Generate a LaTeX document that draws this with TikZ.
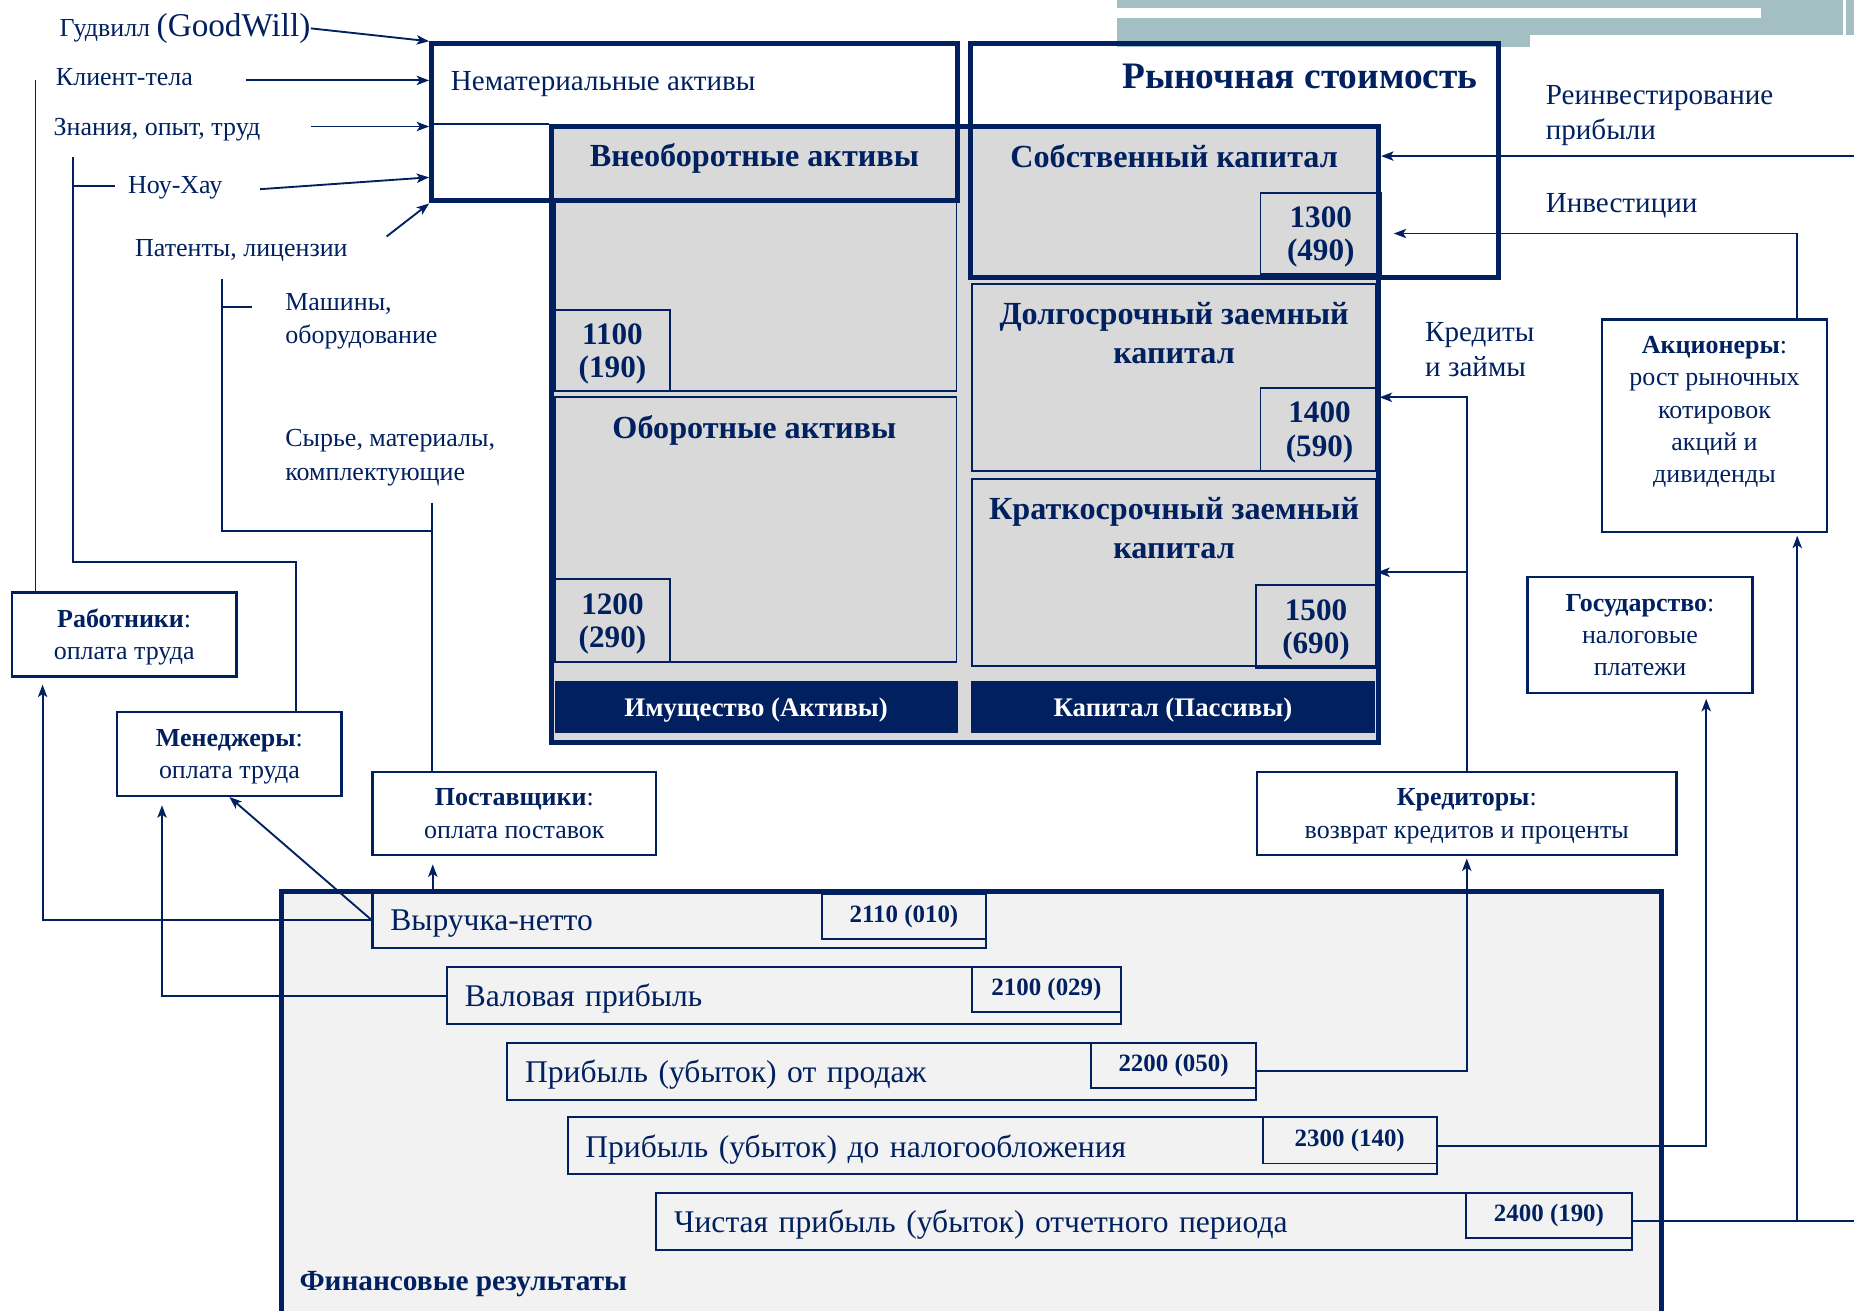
\documentclass[tikz,border=0pt]{standalone}
\usepackage{fontspec}
\setmainfont{Liberation Serif}
\usetikzlibrary{arrows.meta}

\definecolor{navy}{RGB}{0,32,96}
\definecolor{balgrey}{RGB}{217,217,217}
\definecolor{resgrey}{RGB}{242,242,242}
\definecolor{stripe}{RGB}{163,191,196}

\begin{document}
\begin{tikzpicture}[
    x=0.02cm, y=-0.02cm, color=navy,
    frame/.style={rectangle, draw=navy, line width=2.4pt, inner sep=0pt},
    cell/.style={rectangle, draw=navy, line width=0.9pt, inner sep=0pt},
    numbox/.style={cell, text depth=0pt, font=\bfseries\fontsize{15}{16}\selectfont, align=center},
    heading/.style={font=\bfseries\fontsize{15.5}{19}\selectfont, align=center, inner sep=0pt},
    footbar/.style={rectangle, fill=navy, text=white, text depth=0pt, font=\bfseries\fontsize{12.9}{16}\selectfont, inner sep=0pt},
    party/.style={rectangle, draw=navy, line width=1.2pt, fill=white, align=center, inner sep=0pt, font=\fontsize{12.5}{15.5}\selectfont},
    source/.style={anchor=west, align=left, inner sep=0pt, font=\fontsize{12.5}{16}\selectfont},
    flow/.style={anchor=west, align=left, inner sep=0pt, font=\fontsize{14}{17}\selectfont},
    result/.style={rectangle, draw=navy, line width=1pt, inner xsep=0.3cm, inner ysep=0pt, text depth=0pt, minimum height=0.96cm, align=left, font=\fontsize{15.2}{17}\selectfont},
    code/.style={rectangle, draw=navy, line width=0.9pt, inner sep=0pt, minimum height=0.76cm, font=\bfseries\fontsize{12}{14}\selectfont},
    link/.style={line width=0.9pt},
    arrow/.style={-{Stealth[length=6pt, width=4.5pt, inset=1.5pt]}, line width=0.9pt}
]
\useasboundingbox (0,0) rectangle (1568,1108);

% Header stripes
\fill[stripe] (945,0) rectangle (1568,30);
\fill[stripe] (945,0) rectangle (1294,40);
\fill[white] (945,7) rectangle (1489,15);
\fill[white] (1559,0) rectangle (1561,30);

% Balance sheet
\node[frame, fill=balgrey, minimum width=14cm, minimum height=10.42cm] at (816,367.5) (bal) {};
\node[cell, minimum width=6.8cm, minimum height=3.22cm] at (639,250.5) (nca) {};
\node[cell, minimum width=6.8cm, minimum height=4.48cm] at (639,448) (ca) {};
\node[cell, minimum width=6.84cm, minimum height=3.16cm] at (993,319) (ltd) {};
\node[cell, minimum width=6.84cm, minimum height=3.16cm] at (993,484) (std) {};

\node[numbox, minimum width=1.96cm, minimum height=1.38cm] at (518,296.5) (n1100) {1100\\(190)};
\node[numbox, minimum width=1.96cm, minimum height=1.4cm] at (518,525) (n1200) {1200\\(290)};
\node[numbox, minimum width=2.04cm, minimum height=1.38cm] at (1117,197.5) (n1300) {1300\\(490)};
\node[numbox, minimum width=2cm, minimum height=1.4cm] at (1116,363) (n1400) {1400\\(590)};
\node[numbox, minimum width=2.04cm, minimum height=1.4cm] at (1113,530) (n1500) {1500\\(690)};

\node[heading] at (638,134) (ncatxt) {Внеоборотные активы};
\node[heading] at (638,364) (catxt) {Оборотные активы};
\node[heading] at (993,132) (eqtxt) {Собственный капитал};
\node[heading] at (993,281.5) (ltdtxt) {Долгосрочный заемный\\капитал};
\node[heading] at (993,446.5) (stdtxt) {Краткосрочный заемный\\капитал};

\node[footbar, minimum width=6.82cm, minimum height=0.88cm] at (639.5,598) (assets) {Имущество (Активы)};
\node[footbar, minimum width=6.84cm, minimum height=0.88cm] at (992,598) (liabs) {Капитал (Пассивы)};

% Intangible assets and market value
\node[frame, minimum width=8.9cm, minimum height=2.66cm] at (587.5,103.5) (intang) {};
\node[frame, minimum width=8.92cm, minimum height=3.96cm] at (1044,136) (market) {};
\node[anchor=west, inner sep=0pt, font=\fontsize{14}{17}\selectfont] at (381,71) (intangtxt) {Нематериальные активы};
\node[anchor=east, inner sep=0pt, font=\bfseries\fontsize{18}{21}\selectfont] at (1250,65) (markettxt) {Рыночная стоимость};
\draw[line width=0.6pt] (intang.west |- bal.north) -- (bal.north west);

% Sources
\node[source] at (50,24) (goodwill) {Гудвилл {\fontsize{16}{18}\selectfont(GoodWill)}};
\node[source] at (47,65) (clients) {Клиент-тела};
\node[source] at (45,109.5) (knowledge) {Знания, опыт, труд};
\node[source] at (108,159) (knowhow) {Ноу-Хау};
\node[source] at (114,211.5) (patents) {Патенты, лицензии};
\node[source] at (241,272) (machines) {Машины,\\оборудование};
\node[source] at (241,387) (materials) {Сырье, материалы,\\комплектующие};

% Flows on the right
\node[flow] at (1307,98) (reinvest) {Реинвестирование\\прибыли};
\node[flow] at (1307,174) (invest) {Инвестиции};
\node[flow] at (1205,295.5) (loans) {Кредиты\\и займы};

% Financial results
\node[frame, fill=resgrey, minimum width=23.34cm, minimum height=7.32cm] at (821.5,937) (results) {};
\node[anchor=west, inner sep=0pt, font=\bfseries\fontsize{14.1}{18}\selectfont] at (253,1086) (resultstxt) {Финансовые результаты};

\node[result, text width=9.78cm] at (574.5,778) (revenue) {Выручка-нетто};
\node[code, minimum width=2.78cm] at (764.5,775) (c2110) {2110 (010)};
\node[result, text width=10.8cm] at (663,842) (gross) {Валовая прибыль};
\node[code, minimum width=2.52cm] at (885,837) (c2100) {2100 (029)};
\node[result, text width=12.06cm] at (745.5,906) (sales) {Прибыль (убыток) от продаж};
\node[code, minimum width=2.78cm] at (992.5,901) (c2200) {2200 (050)};
\node[result, text width=14.1cm] at (847.5,969) (ebt) {Прибыль (убыток) до налогообложения};
\node[code, minimum width=2.94cm, minimum height=0.78cm] at (1141.5,964.5) (c2300) {2300 (140)};
\node[result, text width=15.9cm] at (967.5,1033) (net) {Чистая прибыль (убыток) отчетного периода};
\node[code, minimum width=2.8cm] at (1310,1028) (c2400) {2400 (190)};

% Stakeholders
\node[party, text depth=0pt, minimum width=3.8cm, minimum height=1.42cm] at (105,536.5) (workers) {\textbf{Работники}:\\оплата труда};
\node[party, text depth=0pt, minimum width=3.8cm, minimum height=1.42cm] at (194,637.5) (managers) {\textbf{Менеджеры}:\\оплата труда};
\node[party, text depth=0pt, minimum width=4.8cm, minimum height=1.4cm] at (435,688) (suppliers) {\textbf{Поставщики}:\\оплата поставок};
\node[party, text depth=0pt, minimum width=7.1cm, minimum height=1.4cm] at (1240.5,688) (creditors) {\textbf{Кредиторы}:\\возврат кредитов и проценты};
\node[party, minimum width=3.8cm, minimum height=1.96cm] at (1387,537) (state) {\textbf{Государство}:\\налоговые\\платежи};
\node[party, minimum width=3.8cm, minimum height=3.6cm] at (1450,360) (holders) {\textbf{Акционеры}:\\рост рыночных\\котировок\\акций и\\дивиденды\\~};

% Sources -> intangible assets
\coordinate (clientsend) at (208,68);
\coordinate (knowledgeend) at (263,107);
\coordinate (knowhowend) at (220,160);
\coordinate (patentsend) at (327,200);
\draw[arrow] (goodwill.east) -- (intang.north west);
\draw[arrow] (clientsend) -- (clientsend -| intang.west);
\draw[arrow] (knowledgeend) -- (knowledgeend -| intang.west);
\draw[arrow] (knowhowend) -- ([yshift=-0.93cm]intang.west);
\draw[arrow] (patentsend) -- (intang.south west);

% Stakeholder trees
\coordinate (workerstop) at (30,68);
\coordinate (managerstop) at (62,133);
\coordinate (supplierstop) at (188,236);
\coordinate (materialsend) at (365,425);
\draw[link] (workerstop) -- (workerstop |- workers.north);
\draw[link] (managerstop) -- (62,475) -| ([xshift=1.12cm]managers.north);
\draw[link] (managerstop |- 0,157) -- ([xshift=-0.22cm]knowhow.west |- 0,157);
\draw[link] (supplierstop) -- (188,449) -| ([xshift=-1.4cm]suppliers.north);
\draw[link] (supplierstop |- 0,260) -- ([xshift=-0.56cm]machines.west |- 0,260);
\draw[link] (materialsend) -- (materialsend |- suppliers.north);

% Flows into capital
\coordinate (reinvestend) at (1568,132);
\draw[arrow] (reinvestend) -- (reinvestend -| bal.east);
\draw[arrow] ([xshift=1.4cm]holders.north) |- ([xshift=0.2cm]n1300.east);
\draw[arrow] (creditors.north) |- ([yshift=0.54cm]n1400.east);
\draw[arrow] (creditors.north |- std.east) -- (std.east);

% Results -> stakeholders
\draw[arrow] (revenue.west) -| ([xshift=-1.38cm, yshift=-0.12cm]workers.south);
\draw[arrow] (revenue.west) -- (managers.south);
\draw[arrow] (gross.west) -| ([xshift=-1.14cm, yshift=-0.14cm]managers.south);
\draw[arrow] ([xshift=-1.38cm]suppliers.south |- revenue.north) -- ([xshift=-1.38cm, yshift=-0.14cm]suppliers.south);
\draw[arrow] (sales.east) -| ([yshift=-0.04cm]creditors.south);
\draw[arrow] (ebt.east) -| ([xshift=1.12cm, yshift=-0.08cm]state.south);
\coordinate (netend) at (1568,1033);
\draw[link] (net.east) -- (netend);
\draw[arrow] ([xshift=1.4cm]holders.south |- net.east) -- ([xshift=1.4cm, yshift=-0.04cm]holders.south);

\end{tikzpicture}
\end{document}
